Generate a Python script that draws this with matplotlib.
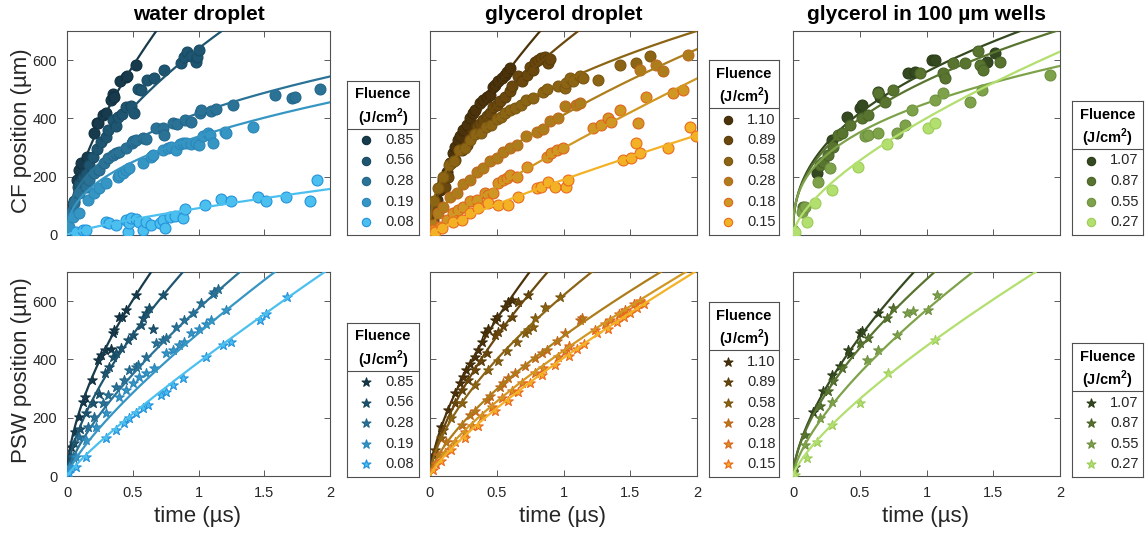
import numpy as np
import matplotlib
matplotlib.use('Agg')
import matplotlib.pyplot as plt

plt.rcParams['font.family'] = ['Liberation Sans', 'DejaVu Sans']
plt.rcParams['mathtext.fontset'] = 'custom'
plt.rcParams['mathtext.rm'] = 'Liberation Sans'
plt.rcParams['mathtext.bf'] = 'Liberation Sans:bold'

W, H = 1145, 536

# ---------------- labels ----------------
titles = ['water droplet', 'glycerol droplet', 'glycerol in 100 µm wells']
ylabels = ['CF position (µm)', 'PSW position (µm)']
xlabel = 'time (µs)'
xticks = [0, 0.5, 1, 1.5, 2]
xticklabels = ['0', '0.5', '1', '1.5', '2']
yticks = [0, 200, 400, 600]
yticklabels = ['0', '200', '400', '600']

fluence_water = ['0.85', '0.56', '0.28', '0.19', '0.08']
fluence_glyc = ['1.10', '0.89', '0.58', '0.28', '0.18', '0.15']
fluence_wells = ['1.07', '0.87', '0.55', '0.27']

# ---------------- CF, water droplet ----------------
wcf085_t = [0.0, 0.018, 0.03, 0.074, 0.094, 0.107, 0.15, 0.203, 0.226, 0.233, 0.272, 0.30, 0.335, 0.348, 0.361, 0.404, 0.445, 0.457, 0.521]
wcf085_y = [29, 74, 100, 189, 223, 246, 269, 351, 384, 383, 412, 418, 464, 483, 475, 527, 542, 546, 584]
wcf056_t = [0.03, 0.056, 0.081, 0.094, 0.12, 0.145, 0.17, 0.2, 0.23, 0.262, 0.297, 0.31, 0.347, 0.37, 0.39, 0.42, 0.448, 0.486, 0.51, 0.537, 0.564, 0.61, 0.66, 0.737, 0.87, 0.889, 0.914, 0.945, 0.983, 0.99, 1.003]
wcf056_y = [70, 118, 166, 175, 195, 211, 240, 268, 295, 318, 337, 360, 394, 375, 405, 415, 438, 444, 420, 502, 498, 531, 540, 565, 590, 611, 628, 613, 595, 610, 634]
wcf028_t = [0.005, 0.03, 0.056, 0.094, 0.145, 0.17, 0.208, 0.247, 0.285, 0.31, 0.348, 0.374, 0.399, 0.45, 0.496, 0.5, 0.526, 0.577, 0.602, 0.679, 0.729, 0.737, 0.806, 0.836, 0.895, 0.945, 1.009, 1.02, 1.098, 1.136, 1.263, 1.58, 1.708, 1.733, 1.924]
wcf028_y = [17, 74, 109, 143, 166, 189, 212, 223, 246, 263, 275, 281, 286, 298, 315, 321, 326, 332, 329, 366, 366, 344, 384, 380, 393, 389, 418, 429, 424, 432, 447, 481, 469, 475, 500]
wcf019_t = [0.018, 0.043, 0.094, 0.158, 0.208, 0.247, 0.297, 0.386, 0.399, 0.424, 0.45, 0.475, 0.577, 0.64, 0.653, 0.729, 0.767, 0.793, 0.831, 0.856, 0.882, 0.907, 0.945, 0.983, 1.004, 1.034, 1.072, 1.085, 1.11, 1.2, 1.212, 1.415]
wcf019_y = [29, 63, 74, 120, 143, 160, 177, 200, 206, 212, 223, 229, 246, 269, 275, 292, 298, 303, 292, 313, 315, 317, 313, 315, 309, 338, 349, 344, 315, 352, 349, 372]
wcf008_t = [0.069, 0.119, 0.145, 0.297, 0.323, 0.374, 0.45, 0.462, 0.475, 0.488, 0.526, 0.551, 0.577, 0.602, 0.64, 0.704, 0.729, 0.742, 0.78, 0.818, 0.882, 0.895, 1.047, 1.174, 1.25, 1.454, 1.517, 1.664, 1.848, 1.903]
wcf008_y = [11, 17, 17, 46, 42, 34, 52, 11, 40, 57, 54, 46, 17, 46, 34, 42, 52, 23, 63, 65, 57, 88, 103, 123, 115, 129, 115, 129, 115, 189]
wcf_fit_a = [890, 640, 418, 338, 92]
wcf_fit_b = [0.62, 0.55, 0.38, 0.43, 0.78]

# ---------------- CF, glycerol droplet ----------------
gcf110_t = [0.012, 0.05, 0.075, 0.1, 0.125, 0.15, 0.175, 0.187, 0.212, 0.224, 0.25, 0.274, 0.299, 0.324, 0.337, 0.374, 0.399, 0.424, 0.449, 0.474, 0.486, 0.511, 0.536, 0.561, 0.579, 0.599]
gcf110_y = [63, 120, 155, 189, 215, 246, 281, 303, 326, 338, 360, 378, 401, 418, 429, 452, 464, 475, 481, 507, 515, 527, 538, 550, 561, 573]
gcf089_t = [0.025, 0.05, 0.09, 0.112, 0.137, 0.16, 0.19, 0.237, 0.274, 0.3, 0.324, 0.35, 0.374, 0.399, 0.424, 0.449, 0.475, 0.499, 0.524, 0.561, 0.599, 0.611, 0.661, 0.686, 0.723, 0.748, 0.773, 0.786, 0.81, 0.835, 0.86, 0.873, 0.885, 0.898]
gcf089_y = [52, 97, 170, 166, 200, 246, 258, 290, 310, 330, 345, 372, 380, 395, 410, 420, 440, 445, 460, 475, 495, 510, 544, 527, 550, 578, 567, 595, 601, 607, 612, 601, 590, 603]
gcf058_t = [0.03, 0.06, 0.1, 0.14, 0.18, 0.22, 0.26, 0.3, 0.34, 0.38, 0.42, 0.46, 0.5, 0.53, 0.56, 0.6, 0.64, 0.68, 0.72, 0.773, 0.848, 0.873, 0.96, 1.01, 1.022, 1.047, 1.072, 1.122, 1.147, 1.259, 1.421, 1.546, 1.646]
gcf058_y = [115, 160, 200, 240, 255, 290, 298, 325, 345, 350, 372, 378, 398, 405, 420, 430, 435, 445, 462, 470, 490, 500, 510, 504, 521, 540, 530, 545, 540, 532, 584, 590, 613]
gcf028_t = [0.02, 0.06, 0.1, 0.15, 0.2, 0.25, 0.3, 0.35, 0.4, 0.45, 0.5, 0.55, 0.6, 0.65, 0.72, 0.8, 0.85, 0.9, 0.96, 1.01, 1.097, 1.122, 1.571, 1.696, 1.746, 1.933]
gcf028_y = [35, 75, 95, 130, 145, 175, 190, 215, 230, 255, 265, 285, 300, 310, 340, 355, 365, 392, 400, 441, 447, 452, 567, 584, 564, 618]
gcf018_t = [0.025, 0.075, 0.125, 0.175, 0.212, 0.249, 0.299, 0.349, 0.411, 0.436, 0.474, 0.511, 0.549, 0.574, 0.599, 0.648, 0.723, 0.873, 0.91, 0.948, 0.998, 1.222, 1.284, 1.334, 1.359, 1.421, 1.559, 1.621, 1.82, 1.895]
gcf018_y = [17, 29, 52, 74, 86, 97, 115, 120, 143, 137, 143, 177, 189, 195, 206, 200, 235, 269, 281, 292, 298, 366, 378, 401, 389, 429, 384, 475, 487, 498]
gcf015_t = [0.012, 0.037, 0.087, 0.175, 0.237, 0.299, 0.361, 0.436, 0.511, 0.586, 0.661, 0.798, 0.835, 0.885, 0.935, 1.022, 1.035, 1.446, 1.509, 1.546, 1.571, 1.783, 1.945, 1.995]
gcf015_y = [8, 11, 23, 46, 52, 74, 92, 109, 103, 103, 132, 160, 166, 183, 166, 166, 189, 258, 263, 315, 281, 298, 372, 340]
gcf_fit_a = [790, 660, 527, 412, 298, 190]
gcf_fit_b = [0.63, 0.56, 0.41, 0.63, 0.85, 0.85]

# ---------------- CF, glycerol in wells ----------------
lcf107_t = [0.177, 0.29, 0.402, 0.502, 0.514, 0.639, 0.652, 0.864, 0.914, 1.039, 1.064, 1.451, 1.513]
lcf107_y = [212, 326, 406, 435, 447, 492, 475, 555, 558, 601, 601, 595, 626]
lcf087_t = [0.077, 0.202, 0.227, 0.265, 0.302, 0.34, 0.365, 0.427, 0.514, 0.564, 0.639, 0.689, 0.752, 0.951, 1.126, 1.139, 1.201, 1.288, 1.388, 1.401, 1.426, 1.551]
lcf087_y = [97, 240, 252, 275, 303, 344, 349, 378, 401, 412, 487, 458, 498, 555, 555, 538, 590, 590, 630, 584, 567, 595]
lcf055_t = [0.002, 0.065, 0.09, 0.19, 0.277, 0.539, 0.56, 0.639, 0.777, 0.839, 0.889, 1.064, 1.126, 1.326, 1.413, 1.925]
lcf055_y = [17, 80, 97, 183, 229, 338, 342, 349, 349, 378, 429, 464, 487, 458, 498, 550]
lcf027_t = [0.015, 0.102, 0.165, 0.29, 0.489, 0.707, 1.014, 1.064]
lcf027_y = [11, 46, 109, 155, 235, 313, 366, 386]
lcf_fit_a = [560, 530, 452, 401]
lcf_fit_b = [0.42, 0.41, 0.36, 0.65]

# ---------------- PSW, water droplet ----------------
wps085_t = [0.005, 0.03, 0.06, 0.094, 0.119, 0.14, 0.19, 0.233, 0.26, 0.29, 0.335, 0.347, 0.36, 0.398, 0.42, 0.449, 0.525]
wps085_y = [43, 101, 150, 203, 255, 270, 330, 398, 415, 432, 437, 489, 501, 546, 545, 569, 621]
wps056_t = [0.03, 0.056, 0.1, 0.144, 0.2, 0.246, 0.289, 0.322, 0.347, 0.373, 0.41, 0.461, 0.499, 0.563, 0.575, 0.601, 0.626, 0.651, 0.727]
wps056_y = [66, 112, 160, 215, 250, 283, 352, 375, 409, 421, 440, 466, 483, 518, 541, 558, 575, 506, 621]
wps028_t = [0.01, 0.043, 0.094, 0.157, 0.208, 0.271, 0.309, 0.373, 0.436, 0.474, 0.525, 0.537, 0.601, 0.677, 0.727, 0.753, 0.829, 0.892, 0.956, 1.019, 1.108, 1.12, 1.146]
wps028_y = [20, 66, 135, 169, 203, 249, 278, 306, 329, 363, 375, 381, 409, 455, 466, 472, 512, 535, 558, 592, 626, 632, 643]
wps019_t = [0.018, 0.068, 0.144, 0.221, 0.297, 0.398, 0.449, 0.499, 0.55, 0.6, 0.664, 0.753, 0.804, 0.854, 0.892, 0.943, 1.006, 1.057, 1.095, 1.209]
wps019_y = [32, 66, 123, 169, 215, 272, 295, 318, 340, 352, 369, 421, 432, 449, 461, 489, 506, 523, 535, 569]
wps008_t = [0.018, 0.068, 0.144, 0.297, 0.373, 0.436, 0.474, 0.525, 0.576, 0.614, 0.715, 0.753, 0.804, 0.88, 1.057, 1.184, 1.247, 1.466, 1.517, 1.67]
wps008_y = [9, 32, 66, 129, 158, 181, 198, 215, 232, 243, 278, 289, 312, 335, 408, 448, 461, 536, 556, 614]
wps_fit_a = [915, 760, 575, 490, 390]
wps_fit_b = [0.60, 0.65, 0.72, 0.78, 0.87]

# ---------------- PSW, glycerol droplet ----------------
gps110_t = [0.023, 0.085, 0.135, 0.185, 0.223, 0.248, 0.273, 0.298, 0.336, 0.361, 0.386, 0.411, 0.436, 0.486, 0.5, 0.561, 0.586, 0.612]
gps110_y = [72, 169, 226, 285, 318, 341, 363, 386, 409, 432, 461, 489, 506, 535, 545, 581, 598, 603]
gps089_t = [0.035, 0.098, 0.185, 0.236, 0.286, 0.336, 0.38, 0.424, 0.486, 0.51, 0.55, 0.612, 0.662, 0.737]
gps089_y = [89, 158, 249, 295, 329, 363, 395, 421, 483, 495, 515, 546, 598, 621]
gps058_t = [0.085, 0.16, 0.236, 0.336, 0.436, 0.511, 0.574, 0.649, 0.712, 0.737, 0.774, 0.787, 0.862, 0.975]
gps058_y = [130, 200, 249, 313, 365, 395, 430, 460, 490, 500, 512, 541, 581, 615]
gps028_t = [0.06, 0.12, 0.236, 0.3, 0.336, 0.424, 0.45, 0.524, 0.55, 0.587, 0.637, 0.712, 0.787, 0.837, 0.875, 0.95, 1.013, 1.125, 1.138]
gps028_y = [72, 115, 175, 209, 222, 262, 276, 306, 318, 335, 352, 378, 405, 421, 432, 463, 489, 535, 541]
gps018_t = [0.048, 0.11, 0.185, 0.261, 0.311, 0.386, 0.461, 0.536, 0.612, 0.687, 0.787, 0.85, 0.962, 1.013, 1.038, 1.238, 1.313, 1.351, 1.414, 1.439, 1.464, 1.53, 1.57]
gps018_y = [40, 78, 118, 150, 172, 205, 238, 266, 290, 318, 352, 372, 410, 428, 445, 500, 522, 535, 555, 560, 568, 590, 600]
gps015_t = [0.023, 0.085, 0.16, 0.261, 0.361, 0.486, 0.587, 0.662, 0.749, 0.837, 0.937, 1.038, 1.1, 1.15, 1.25, 1.33, 1.4, 1.45, 1.5, 1.55, 1.6]
gps015_y = [21, 50, 88, 132, 172, 222, 258, 287, 318, 348, 380, 412, 437, 453, 489, 505, 530, 545, 560, 575, 590]
gps_fit_a = [848, 762, 620, 480, 430, 405]
gps_fit_b = [0.655, 0.67, 0.632, 0.69, 0.75, 0.80]

# ---------------- PSW, glycerol in wells ----------------
lps107_t = [0.002, 0.152, 0.227, 0.29, 0.352, 0.414, 0.427, 0.502, 0.514, 0.639]
lps107_y = [15, 221, 290, 347, 376, 433, 420, 490, 496, 559]
lps087_t = [0.015, 0.09, 0.202, 0.265, 0.302, 0.365, 0.502, 0.564, 0.702, 0.752]
lps087_y = [32, 140, 240, 290, 325, 370, 456, 473, 542, 576]
lps055_t = [0.002, 0.09, 0.202, 0.29, 0.552, 0.639, 0.777, 0.851, 0.901, 1.014, 1.076]
lps055_y = [9, 105, 198, 255, 398, 433, 484, 559, 565, 570, 622]
lps027_t = [0.015, 0.102, 0.177, 0.29, 0.502, 0.714, 1.064]
lps027_y = [3, 61, 118, 175, 250, 353, 467]
lps_fit_a = [746, 675, 570, 446]
lps_fit_b = [0.646, 0.62, 0.69, 0.755]

# ---------------- colours ----------------
water_fill = ['#173a4c', '#1e5570', '#2a7396', '#3595c3', '#4bc0ef']
water_edge = ['#10303f', '#174a63', '#22668a', '#2b86ba', '#2592dc']
glyc_fill = ['#4b320a', '#6a480d', '#8b6414', '#ae7d1b', '#d09722', '#f3b226']
glyc_edge = ['#3d2a08', '#5a3c0a', '#7c5610', '#c0661c', '#e0641e', '#ea6a1e']
wells_fill = ['#34491f', '#58742f', '#7ea24a', '#b2df6e']
wells_edge = ['#2a3c18', '#4a6428', '#6e9040', '#9ccc5a']

# ---------------- layout (pixels) ----------------
col_x = [(67, 330), (430, 697), (793, 1060)]
row_y = [(31, 235), (272, 476)]
leg_x = [(347, 419), (709, 779), (1072, 1143)]
leg_bottom = [235, 477]

fig = plt.figure(figsize=(W / 100, H / 100), dpi=100)
TXT = '#262626'


def make_axes(col, row):
    x0, x1 = col_x[col]
    y0, y1 = row_y[row]
    ax = fig.add_axes([x0 / W, 1 - y1 / H, (x1 - x0) / W, (y1 - y0) / H])
    ax.set_xlim(0, 2)
    ax.set_ylim(0, 700)
    ax.set_xticks(xticks)
    ax.set_yticks(yticks)
    ax.set_xticklabels(xticklabels if row == 1 else [])
    ax.set_yticklabels(yticklabels if col == 0 else [])
    ax.tick_params(direction='in', top=True, right=True, length=4, width=0.6,
                   color='#404040', labelcolor=TXT, labelsize=10.5, pad=7)
    for s in ax.spines.values():
        s.set_color('#505050')
        s.set_linewidth(0.8)
    return ax


def draw_panel(ax, ts, ys, fa, fb, fills, edges, marker, size):
    tt = np.linspace(0, 2, 500)
    for k in range(len(ts)):
        ax.scatter(ts[k], ys[k], s=size, marker=marker, facecolor=fills[k],
                   edgecolor=edges[k], linewidth=0.8, zorder=2 + 2 * k)
        ax.plot(tt, fa[k] * tt ** fb[k], color=fills[k], lw=1.6, zorder=3 + 2 * k)


def draw_legend(li, row, labels, fills, edges, marker, msize):
    x0, x1 = leg_x[li]
    yb = leg_bottom[row]
    n = len(labels)
    first = yb - 13 - 20.5 * (n - 1)
    sep = first - 11.5
    yt = sep - 48
    ax = fig.add_axes([x0 / W, 1 - yb / H, (x1 - x0) / W, (yb - yt) / H])
    ax.set_xlim(x0, x1)
    ax.set_ylim(yb, yt)
    ax.set_xticks([])
    ax.set_yticks([])
    for s in ax.spines.values():
        s.set_color('#505050')
        s.set_linewidth(0.8)
    ax.plot([x0, x1], [sep, sep], color='#505050', lw=0.8)
    cx = (x0 + x1) / 2
    ax.text(cx, sep - 34, 'Fluence', ha='center', va='center', fontsize=10.5,
            fontweight='bold', color='black')
    ax.text(cx, sep - 11, r'(J/cm$^{\mathbf{2}}$)', ha='center', va='center',
            fontsize=10.5, fontweight='bold', color='black')
    for k, lab in enumerate(labels):
        y = first + 20.5 * k
        ax.scatter([x0 + 19], [y], s=msize, marker=marker, facecolor=fills[k],
                   edgecolor=edges[k], linewidth=0.8)
        ax.text(x0 + 38, y, lab, ha='left', va='center', fontsize=10.5, color=TXT)


CIRC = 62
STAR = 52

# top row
ax = make_axes(0, 0)
draw_panel(ax, [wcf085_t, wcf056_t, wcf028_t, wcf019_t, wcf008_t],
           [wcf085_y, wcf056_y, wcf028_y, wcf019_y, wcf008_y],
           wcf_fit_a, wcf_fit_b, water_fill, water_edge, 'o', CIRC)
ax = make_axes(1, 0)
draw_panel(ax, [gcf110_t, gcf089_t, gcf058_t, gcf028_t, gcf018_t, gcf015_t],
           [gcf110_y, gcf089_y, gcf058_y, gcf028_y, gcf018_y, gcf015_y],
           gcf_fit_a, gcf_fit_b, glyc_fill, glyc_edge, 'o', CIRC)
ax = make_axes(2, 0)
draw_panel(ax, [lcf107_t, lcf087_t, lcf055_t, lcf027_t],
           [lcf107_y, lcf087_y, lcf055_y, lcf027_y],
           lcf_fit_a, lcf_fit_b, wells_fill, wells_edge, 'o', CIRC)

# bottom row
ax = make_axes(0, 1)
draw_panel(ax, [wps085_t, wps056_t, wps028_t, wps019_t, wps008_t],
           [wps085_y, wps056_y, wps028_y, wps019_y, wps008_y],
           wps_fit_a, wps_fit_b, water_fill, water_edge, '*', STAR)
ax = make_axes(1, 1)
draw_panel(ax, [gps110_t, gps089_t, gps058_t, gps028_t, gps018_t, gps015_t],
           [gps110_y, gps089_y, gps058_y, gps028_y, gps018_y, gps015_y],
           gps_fit_a, gps_fit_b, glyc_fill, glyc_edge, '*', STAR)
ax = make_axes(2, 1)
draw_panel(ax, [lps107_t, lps087_t, lps055_t, lps027_t],
           [lps107_y, lps087_y, lps055_y, lps027_y],
           lps_fit_a, lps_fit_b, wells_fill, wells_edge, '*', STAR)

# legends
draw_legend(0, 0, fluence_water, water_fill, water_edge, 'o', 36)
draw_legend(1, 0, fluence_glyc, glyc_fill, glyc_edge, 'o', 36)
draw_legend(2, 0, fluence_wells, wells_fill, wells_edge, 'o', 36)
draw_legend(0, 1, fluence_water, water_fill, water_edge, '*', 45)
draw_legend(1, 1, fluence_glyc, glyc_fill, glyc_edge, '*', 45)
draw_legend(2, 1, fluence_wells, wells_fill, wells_edge, '*', 45)

# titles and labels
for c in range(3):
    cx = (col_x[c][0] + col_x[c][1]) / 2
    fig.text(cx / W, 1 - 20 / H, titles[c], ha='center', va='baseline',
             fontsize=15, fontweight='bold', color='black')
    fig.text((cx - 1) / W, 1 - 522 / H, xlabel, ha='center', va='baseline',
             fontsize=16, color=TXT)
fig.text(22 / W, 1 - 131 / H, ylabels[0], rotation=90, ha='center', va='center',
         fontsize=16, color=TXT)
fig.text(22 / W, 1 - 370 / H, ylabels[1], rotation=90, ha='center', va='center',
         fontsize=16, color=TXT)

fig.savefig('out.png', dpi=100, facecolor='white')
